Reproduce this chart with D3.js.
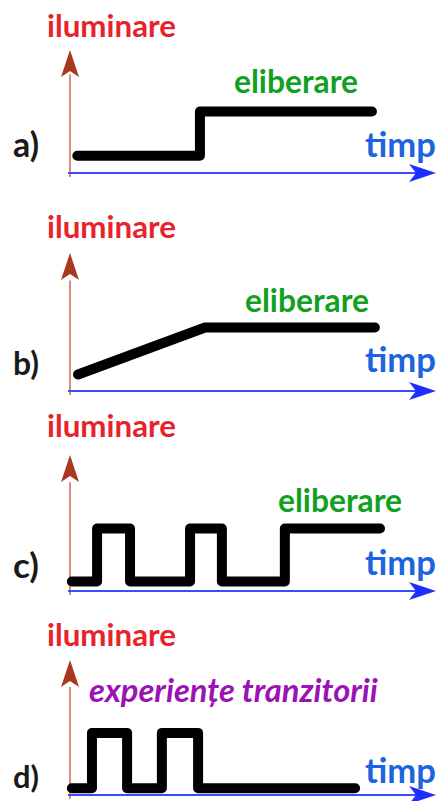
<!DOCTYPE html>
<html>
<head>
<meta charset="utf-8">
<script src="https://cdn.jsdelivr.net/npm/d3@7"></script>
<style>
  body { margin: 0; background: #fff; }
  text { font-family: Lato, "Open Sans", sans-serif; font-weight: 700; }
</style>
</head>
<body>
<script>
// four sketches of illumination vs time
var panelNames = ['a)', 'b)', 'c)', 'd)'];
var notes = ['eliberare', 'eliberare', 'eliberare', 'experiențe tranzitorii'];
var yTitle = 'iluminare';
var xTitle = 'timp';

// time (0-100) and illumination (0-10) for each panel
var timeA = [2, 35.5, 82.5];
var lightA = [1.4, 5, 5];
var timeB = [2.2, 36.9, 83.3];
var lightB = [1.2, 4.6, 4.6];
var timeC = [0.5, 7.4, 16.4, 32.8, 41.5, 58.7, 84.7];
var lightC = [0.7, 4.6, 0.7, 4.6, 0.7, 4.6, 4.6];
var timeD = [0.5, 6.0, 15.6, 25.1, 35.0, 77.9];
var lightD = [0.5, 4.6, 0.5, 4.6, 0.5, 0.5];

var W = 439, H = 801;
var svg = d3.select('body').append('svg')
            .attr('width', W)
            .attr('height', H);

// layout of each panel (axis baseline, arrow tip, text baselines)
var panels = [
  {time: timeA, light: lightA, curve: d3.curveStepAfter, axisY: 173, topY: 50, titleY: 37, labelY: 157, timpY: 157, noteX: 234, noteY: 93},
  {time: timeB, light: lightB, curve: d3.curveLinear, axisY: 391, topY: 253, titleY: 238, labelY: 375, timpY: 372, noteX: 245, noteY: 312},
  {time: timeC, light: lightC, curve: d3.curveStepAfter, axisY: 591, topY: 455, titleY: 437, labelY: 578, timpY: 575, noteX: 278, noteY: 512},
  {time: timeD, light: lightD, curve: d3.curveStepAfter, axisY: 795, topY: 660, titleY: 646, labelY: 788, timpY: 783, noteX: 89, noteY: 702}
];

var x = d3.scaleLinear().domain([0, 100]).range([70, 436]);

// fit a text to a given width by scaling its font size
var fitText = function(sel, base, width) {
  sel.style('font-size', base + 'px');
  var w = sel.node().getComputedTextLength();
  sel.style('font-size', (base * width / w) + 'px');
}

panels.forEach(function(p, i) {
  var y = d3.scaleLinear().domain([0, 10]).range([p.axisY, p.topY]);
  var g = svg.append('g');

  // y axis with arrow
  g.append('line')
   .attr('x1', x(0)).attr('x2', x(0))
   .attr('y1', p.axisY + 4).attr('y2', y(8))
   .attr('stroke', '#c86a55').attr('stroke-width', 1.5);
  var tx = x(0), ty = y(10);
  g.append('path')
   .attr('d', 'M' + tx + ',' + ty + 'L' + (tx + 9) + ',' + (ty + 27) + 'L' + tx + ',' + (ty + 21) + 'L' + (tx - 9) + ',' + (ty + 27) + 'Z')
   .attr('fill', '#a8391e');

  // x axis with arrow
  g.append('line')
   .attr('x1', x(0) - 2).attr('x2', x(96))
   .attr('y1', p.axisY).attr('y2', p.axisY)
   .attr('stroke', '#3b4cff').attr('stroke-width', 2);
  var ax = x(100), ay = p.axisY;
  g.append('path')
   .attr('d', 'M' + ax + ',' + ay + 'L' + (ax - 27) + ',' + (ay - 9) + 'L' + (ax - 20) + ',' + ay + 'L' + (ax - 27) + ',' + (ay + 9) + 'Z')
   .attr('fill', '#1e2eff');

  // the signal
  var pts = p.time.map(function(t, k) { return [t, p.light[k]]; });
  var line = d3.line()
               .x(function(d) { return x(d[0]); })
               .y(function(d) { return y(d[1]); })
               .curve(p.curve);
  g.append('path')
   .attr('d', line(pts))
   .attr('fill', 'none')
   .attr('stroke', '#000')
   .attr('stroke-width', 10)
   .attr('stroke-linecap', 'round')
   .attr('stroke-linejoin', 'round');

  // texts
  var t1 = g.append('text').attr('x', 47).attr('y', p.titleY)
            .attr('fill', '#e8222b').text(yTitle);
  fitText(t1, 28, 129);

  var t2 = g.append('text').attr('x', 365).attr('y', p.timpY)
            .attr('fill', '#1c64e0').text(xTitle);
  fitText(t2, 28, 71);

  var t3 = g.append('text').attr('x', 13).attr('y', p.labelY)
            .attr('fill', '#1a1a1a').text(panelNames[i]);
  fitText(t3, 26, 26);

  var t4 = g.append('text').attr('x', p.noteX).attr('y', p.noteY)
            .attr('fill', i == 3 ? '#9b12b5' : '#11a021')
            .style('font-style', i == 3 ? 'italic' : 'normal')
            .text(notes[i]);
  fitText(t4, 28, i == 3 ? 289 : 124);
});
</script>
</body>
</html>
